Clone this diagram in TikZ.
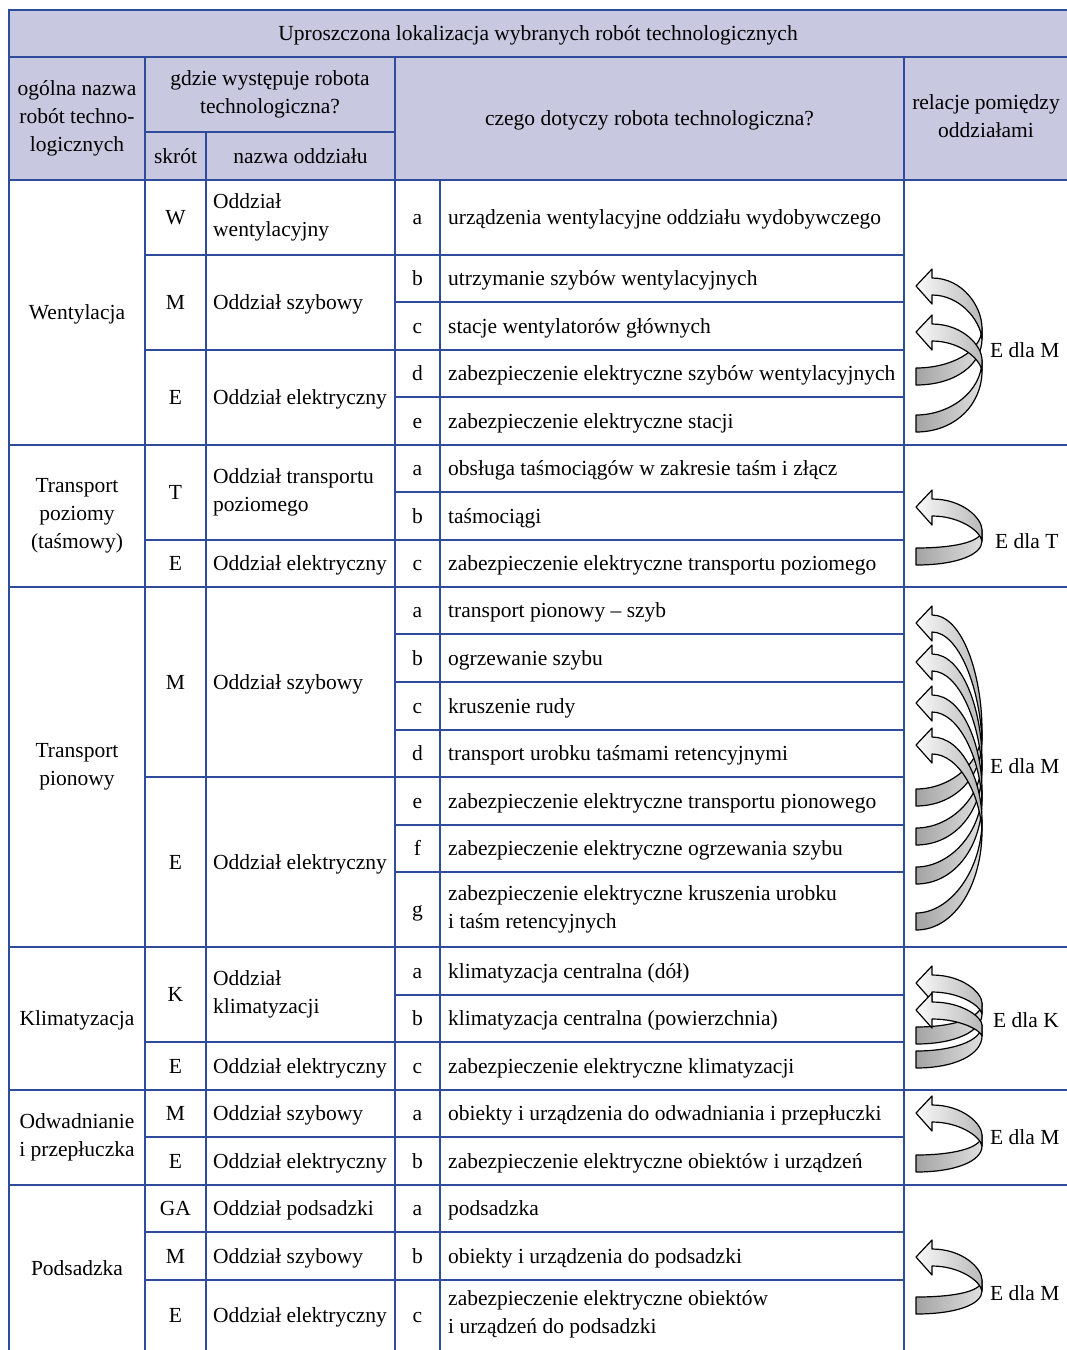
\documentclass[tikz,border=0pt]{standalone}
\usepackage{fontspec}
\setmainfont{Liberation Serif}
\definecolor{tblue}{HTML}{2F4C9C}
\definecolor{hdr}{HTML}{C9C8E1}
\tikzset{
  grid/.style={draw=tblue, line width=2.4pt, line cap=rect},
  txt/.style={inner sep=0pt, yshift=-1.5pt, execute at begin node=\strut, execute at end node=\strut},
  lft/.style={txt, anchor=west, align=left},
  ctr/.style={txt, align=center},
  ribback/.style={draw=black, line width=1.2pt, line join=round, left color=gray!72, right color=gray!25},
  ribfront/.style={draw=black, line width=1.2pt, line join=round, left color=gray!4, right color=gray!55},
}
% back (tail) part: #1 = turn y, #2 = tail centre y
\newcommand\RibBack[2]{%
  \path[ribback] (982,#1) .. controls (982,{(#1+#2)/2}) and (950,{#2-8}) .. (916,{#2-8})
    -- (916,{#2+9}) .. controls (956,{#2+9}) and (982,{(#1+#2)/2+12}) .. (982,{#1+11}) -- cycle;}
% front (head) part: #1 = tip y, #2 = turn y
\newcommand\RibFront[2]{%
  \path[ribfront] (916,#1) -- (932,{#1-17}) -- (932,{#1-8})
    .. controls (963,{#1-8}) and (982,{(#1+#2)/2}) .. (982,#2) -- (982,{#2+11})
    .. controls (980,{(#1+#2)/2+12}) and (959,{#1+9}) .. (932,{#1+9})
    -- (932,{#1+18}) -- cycle;}
\begin{document}
\begin{tikzpicture}[x=1pt,y=-1pt,font=\fontsize{21.5}{28}\selectfont]
\useasboundingbox (0,0) rectangle (1067,1350);
\fill[hdr] (9,10) rectangle (1067,180);

% ---------- grid ----------
\draw[grid] (9,10) -- (1067,10);
\draw[grid] (9,57) -- (1067,57);
\draw[grid] (145,132) -- (395,132);
\draw[grid] (9,180) -- (1067,180);
\foreach \y in {445,587,947,1090,1185} \draw[grid] (9,\y) -- (1067,\y);
\foreach \y in {255,350,540,777,1042,1137,1232,1280} \draw[grid] (145,\y) -- (904,\y);
\foreach \y in {302,397,492,634,682,730,825,872,995} \draw[grid] (395,\y) -- (904,\y);
\draw[grid] (9,10) -- (9,1350);
\draw[grid] (145,57) -- (145,1350);
\draw[grid] (206,132) -- (206,1350);
\draw[grid] (395,57) -- (395,1350);
\draw[grid] (440,180) -- (440,1350);
\draw[grid] (904,57) -- (904,1350);

% ---------- header ----------
\node[ctr] (title) at (538,33.5) {Uproszczona lokalizacja wybranych robót technologicznych};
\node[ctr] (h1) at (77,118.5) {ogólna nazwa\\robót techno-\\logicznych};
\node[ctr] (h2) at (270,94.5) {gdzie występuje robota\\technologiczna?};
\node[ctr] (h3) at (175.5,156) {skrót};
\node[ctr] (h4) at (300.5,156) {nazwa oddziału};
\node[ctr] (h5) at (649.5,118.5) {czego dotyczy robota technologiczna?};
\node[ctr] (h6) at (986,118.5) {relacje pomiędzy\\oddziałami};

% ---------- column 1 ----------
\node[ctr] (g1) at (77,312.5) {Wentylacja};
\node[ctr] (g2) at (77,516) {Transport\\poziomy\\(taśmowy)};
\node[ctr] (g3) at (77,767) {Transport\\pionowy};
\node[ctr] (g4) at (77,1018.5) {Klimatyzacja};
\node[ctr] (g5) at (77,1137.5) {Odwadnianie\\i przepłuczka};
\node[ctr] (g6) at (77,1268) {Podsadzka};

% ---------- columns 2 and 3 ----------
\foreach \n/\y/\s/\t in {
  s1/217.5/W/{Oddział\\wentylacyjny},
  s2/302.5/M/{Oddział szybowy},
  s3/397.5/E/{Oddział elektryczny},
  s4/492.5/T/{Oddział transportu\\poziomego},
  s5/563.5/E/{Oddział elektryczny},
  s6/682/M/{Oddział szybowy},
  s7/862/E/{Oddział elektryczny},
  s8/994.5/K/{Oddział\\klimatyzacji},
  s9/1066/E/{Oddział elektryczny},
  s10/1113.5/M/{Oddział szybowy},
  s11/1161/E/{Oddział elektryczny},
  s12/1208.5/GA/{Oddział podsadzki},
  s13/1256/M/{Oddział szybowy},
  s14/1315/E/{Oddział elektryczny}}{
  \node[ctr] (\n a) at (175.5,\y) {\s};
  \node[lft] (\n b) at (213,\y) {\t};
}

% ---------- columns 4 and 5 ----------
\foreach \n/\y/\l/\t in {
  d1/217.5/a/{urządzenia wentylacyjne oddziału wydobywczego},
  d2/278.5/b/{utrzymanie szybów wentylacyjnych},
  d3/326/c/{stacje wentylatorów głównych},
  d4/373.5/d/{zabezpieczenie elektryczne szybów wentylacyjnych},
  d5/421/e/{zabezpieczenie elektryczne stacji},
  d6/468.5/a/{obsługa taśmociągów w zakresie taśm i złącz},
  d7/516/b/{taśmociągi},
  d8/563.5/c/{zabezpieczenie elektryczne transportu poziomego},
  d9/610.5/a/{transport pionowy – szyb},
  d10/658/b/{ogrzewanie szybu},
  d11/706/c/{kruszenie rudy},
  d12/753.5/d/{transport urobku taśmami retencyjnymi},
  d13/801/e/{zabezpieczenie elektryczne transportu pionowego},
  d14/848.5/f/{zabezpieczenie elektryczne ogrzewania szybu},
  d15/909.5/g/{zabezpieczenie elektryczne kruszenia urobku\\i taśm retencyjnych},
  d16/971/a/{klimatyzacja centralna (dół)},
  d17/1018.5/b/{klimatyzacja centralna (powierzchnia)},
  d18/1066/c/{zabezpieczenie elektryczne klimatyzacji},
  d19/1113.5/a/{obiekty i urządzenia do odwadniania i przepłuczki},
  d20/1161/b/{zabezpieczenie elektryczne obiektów i urządzeń},
  d21/1208.5/a/{podsadzka},
  d22/1256/b/{obiekty i urządzenia do podsadzki},
  d23/1315/c/{zabezpieczenie elektryczne obiektów\\i urządzeń do podsadzki}}{
  \node[ctr] (\n a) at (417.5,\y) {\l};
  \node[lft] (\n b) at (448,\y) {\t};
}

% ---------- relation ribbons ----------
\RibBack{328}{376}\RibBack{360}{423}
\RibFront{286}{328}\RibFront{332}{360}
\node[lft] (r1) at (990,350) {E dla M};

\RibBack{530}{556}
\RibFront{507}{530}
\node[lft] (r2) at (995,541) {E dla T};

\RibBack{730}{797}\RibBack{760}{836}\RibBack{790}{875}\RibBack{820}{921}
\RibFront{623}{730}\RibFront{662}{760}\RibFront{703}{790}\RibFront{745}{820}
\node[lft] (r3) at (990,766) {E dla M};

\RibBack{1003}{1035}\RibBack{1025}{1059}
\RibFront{983}{1003}\RibFront{1010}{1025}
\node[lft] (r4) at (993,1020) {E dla K};

\RibBack{1135}{1163}
\RibFront{1113}{1135}
\node[lft] (r5) at (990,1137) {E dla M};

\RibBack{1280}{1305}
\RibFront{1257}{1280}
\node[lft] (r6) at (990,1293) {E dla M};
\end{tikzpicture}
\end{document}
